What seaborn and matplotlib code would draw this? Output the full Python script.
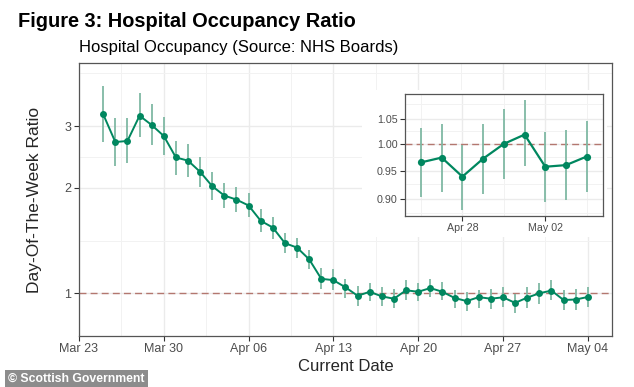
import matplotlib
matplotlib.use("Agg")
import matplotlib.pyplot as plt
import matplotlib.dates as mdates
from matplotlib.ticker import FixedLocator, NullFormatter
from matplotlib.patches import Rectangle
import pandas as pd
import numpy as np
import seaborn as sns

# valori (Mar 25 - May 04)
dates = pd.date_range("2020-03-25", "2020-05-04", freq="D")
ratio = [3.24, 2.70, 2.72, 3.21, 3.02, 2.81, 2.44,
         2.39, 2.22, 2.02, 1.90, 1.85, 1.78, 1.61, 1.54, 1.39, 1.35,
         1.25, 1.10, 1.09, 1.04, 0.984, 1.01, 0.98, 0.965, 1.02, 1.01,
         1.035, 1.01, 0.97, 0.95, 0.975, 0.965, 0.974, 0.939, 0.972, 1.000,
         1.018, 0.957, 0.960, 0.976]
lower = [2.71, 2.31, 2.36, 2.79, 2.65, 2.48, 2.18,
         2.15, 2.01, 1.85, 1.75, 1.71, 1.65, 1.50, 1.43, 1.30, 1.26,
         1.17, 1.03, 1.02, 0.97, 0.92, 0.95, 0.92, 0.91, 0.957, 0.95,
         0.975, 0.957, 0.91, 0.89, 0.91, 0.903, 0.912, 0.881, 0.909, 0.935,
         0.958, 0.895, 0.898, 0.912]
upper = [3.90, 3.16, 3.16, 3.72, 3.46, 3.19, 2.72,
         2.67, 2.45, 2.22, 2.07, 2.01, 1.93, 1.74, 1.65, 1.49, 1.44,
         1.33, 1.18, 1.17, 1.10, 1.05, 1.07, 1.04, 1.03, 1.09, 1.07,
         1.10, 1.08, 1.02, 1.01, 1.02, 1.031, 1.039, 0.998, 1.039, 1.069,
         1.088, 1.024, 1.027, 1.044]

main_yticks = [1, 2, 3]
inset_yticks = [0.90, 0.95, 1.00, 1.05]
inset_days = 9

df = pd.DataFrame({"date": dates, "ratio": ratio, "lower": lower, "upper": upper})
df_inset = df.tail(inset_days)

GREEN = "#00875f"
BAR = "#7fb9a4"
REF = "#ad6a62"

sns.set_style("white")
plt.rcParams["font.family"] = ["Liberation Sans", "DejaVu Sans"]

fig = plt.figure(figsize=(6.34, 3.87), dpi=100)
ax = fig.add_axes([0.1246, 0.1326, 0.8407, 0.7039])


def stil(a, xmin, ymin, fs):
    a.set_yscale("log")
    a.axhline(1, color=REF, lw=1.0, ls=(0, (5, 3)), alpha=0.9, zorder=1)
    a.xaxis.set_minor_locator(FixedLocator(mdates.date2num(xmin)))
    a.yaxis.set_minor_locator(FixedLocator(ymin))
    a.yaxis.set_minor_formatter(NullFormatter())
    a.grid(True, which="major", color="#ebebeb", lw=1.0)
    a.grid(True, which="minor", color="#f2f2f2", lw=0.7)
    a.set_axisbelow(True)
    a.tick_params(which="major", length=3.5, width=0.8, color="#333333",
                  labelsize=fs, labelcolor="#4d4d4d", pad=2,
                  bottom=True, left=True)
    a.tick_params(which="minor", length=0)
    for s in a.spines.values():
        s.set_color("#555555")
        s.set_linewidth(0.9)


# grafic principal
ax.vlines(df["date"], df["lower"], df["upper"], color=BAR, lw=1.3, zorder=2)
sns.lineplot(data=df, x="date", y="ratio", ax=ax, color=GREEN, lw=1.4,
             marker="o", markersize=5, markeredgewidth=0, zorder=3)
xmaj = pd.date_range("2020-03-23", "2020-05-04", freq="7D")
xmin = xmaj[:-1] + pd.Timedelta(hours=84)
stil(ax, xmin, [np.sqrt(2), np.sqrt(6), 4.24], 9)
ax.set_xlim(pd.Timestamp("2020-03-23"), pd.Timestamp("2020-05-06"))
ax.set_ylim(0.757, 4.53)
ax.set_xticks(xmaj)
ax.xaxis.set_major_formatter(mdates.DateFormatter("%b %d"))
ax.set_yticks(main_yticks)
ax.set_yticklabels([str(t) for t in main_yticks])
ax.set_xlabel("Current Date", fontsize=12, labelpad=3)
ax.set_ylabel("Day-Of-The-Week Ratio", fontsize=12.5, labelpad=16)

# fundal alb pentru inset
fig.add_artist(Rectangle((0.5705, 0.3876), 0.3865, 0.38, transform=fig.transFigure,
                         facecolor="white", edgecolor="none", zorder=1))

axi = fig.add_axes([0.6388, 0.4426, 0.3118, 0.3137], zorder=2)
axi.vlines(df_inset["date"], df_inset["lower"], df_inset["upper"], color=BAR, lw=1.3, zorder=2)
sns.lineplot(data=df_inset, x="date", y="ratio", ax=axi, color=GREEN, lw=1.6,
             marker="o", markersize=5.2, markeredgewidth=0, zorder=3)
ixmaj = pd.to_datetime(["2020-04-28", "2020-05-02"])
ixmin = pd.to_datetime(["2020-04-26", "2020-04-30", "2020-05-04"])
iymin = [0.876, 0.925, 0.975, 1.025, 1.079]
stil(axi, ixmin, iymin, 7.7)
axi.set_xlim(pd.Timestamp("2020-04-26") - pd.Timedelta(hours=18.5),
             pd.Timestamp("2020-05-04") + pd.Timedelta(hours=18.5))
axi.set_ylim(0.871, 1.100)
axi.set_xticks(ixmaj)
axi.xaxis.set_major_formatter(mdates.DateFormatter("%b %d"))
axi.set_yticks(inset_yticks)
axi.set_yticklabels([f"{t:.2f}" for t in inset_yticks])
axi.set_xlabel("")
axi.set_ylabel("")

# titluri
fig.text(0.029, 0.931, "Figure 3: Hospital Occupancy Ratio", fontsize=14.4,
         fontweight="bold", va="baseline", ha="left", color="black")
fig.text(0.125, 0.866, "Hospital Occupancy (Source: NHS Boards)", fontsize=12,
         va="baseline", ha="left", color="black")

fig.text(0.013, 0.021, "\u00a9 Scottish Government", fontsize=8.8, fontweight="bold",
         color="white", va="center", ha="left",
         bbox=dict(boxstyle="square,pad=0.25", facecolor="#8c8c8c", edgecolor="none"))

fig.savefig("out.png", dpi=100)
